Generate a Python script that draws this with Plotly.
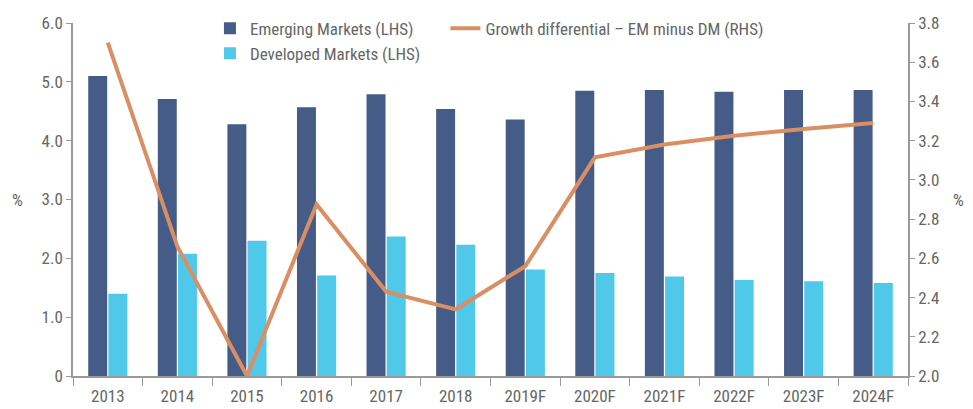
import plotly.graph_objects as go

categories = ["2013", "2014", "2015", "2016", "2017", "2018", "2019F", "2020F", "2021F", "2022F", "2023F", "2024F"]
em_values = [5.10, 4.71, 4.28, 4.57, 4.79, 4.54, 4.36, 4.85, 4.86, 4.83, 4.86, 4.86]
dm_values = [1.40, 2.08, 2.30, 1.71, 2.37, 2.23, 1.81, 1.75, 1.69, 1.63, 1.61, 1.58]
diff_values = [3.70, 2.66, 2.00, 2.875, 2.43, 2.34, 2.56, 3.115, 3.18, 3.225, 3.26, 3.29]
left_ticks = [0, 1, 2, 3, 4, 5, 6]
left_ticktext = ["0", "1.0", "2.0", "3.0", "4.0", "5.0", "6.0"]

FONT = "Roboto Condensed, DejaVu Sans Condensed, sans-serif"
GREY = "#666666"
AXIS = "#9a9a9a"

fig = go.Figure()
fig.add_trace(go.Bar(x=categories, y=em_values, name="Emerging Markets (LHS)",
                     marker=dict(color="#455C88", line=dict(width=0)), legend="legend"))
fig.add_trace(go.Bar(x=categories, y=dm_values, name="Developed Markets (LHS)",
                     marker=dict(color="#50C8EA", line=dict(width=0)), legend="legend"))
fig.add_trace(go.Scatter(x=categories, y=diff_values, name="Growth differential \u2013 EM minus DM (RHS)",
                         mode="lines", line=dict(color="#D98F63", width=4), yaxis="y2", legend="legend2"))

fig.update_layout(
    width=973, height=409,
    margin=dict(l=73, r=65, t=22, b=33),
    paper_bgcolor="white", plot_bgcolor="white",
    font=dict(family=FONT, color=GREY, size=16),
    barmode="group", bargap=0.42, bargroupgap=0.06,
    xaxis=dict(showline=True, linecolor=AXIS, linewidth=1.5, ticks="outside", tickson="boundaries",
               ticklen=8, tickcolor=AXIS, tickfont=dict(size=17, color=GREY), showgrid=False,
               automargin=False, ticklabelstandoff=4),
    yaxis=dict(range=[0, 6], tickvals=left_ticks, ticktext=left_ticktext, showline=True, linecolor=AXIS,
               linewidth=1.5, ticks="outside", ticklen=5, tickcolor=AXIS, showgrid=False, zeroline=False,
               tickfont=dict(size=17, color=GREY), automargin=False),
    yaxis2=dict(range=[2, 3.8], dtick=0.2, tick0=2, tickformat=".1f", overlaying="y", side="right",
                showline=True, linecolor=AXIS, linewidth=1.5, ticks="outside", ticklen=5, tickcolor=AXIS,
                showgrid=False, zeroline=False, tickfont=dict(size=17, color=GREY), automargin=False),
    legend=dict(x=0.164, y=1.032, xanchor="left", yanchor="top", orientation="v",
                bgcolor="rgba(0,0,0,0)", font=dict(size=17, color=GREY), traceorder="normal",
                tracegroupgap=0),
    legend2=dict(x=0.446, y=1.032, xanchor="left", yanchor="top", orientation="v",
                 bgcolor="rgba(0,0,0,0)", font=dict(size=17, color=GREY)),
    annotations=[
        dict(text="%", xref="paper", yref="paper", x=-0.067, y=0.5, showarrow=False,
             font=dict(size=17, color=GREY), xanchor="center", yanchor="middle"),
        dict(text="%", xref="paper", yref="paper", x=1.06, y=0.5, showarrow=False,
             font=dict(size=17, color=GREY), xanchor="center", yanchor="middle"),
    ],
)

fig.write_html("out.html", config={"displayModeBar": False},
               post_script="document.body.style.margin='0';document.body.style.padding='0';")
